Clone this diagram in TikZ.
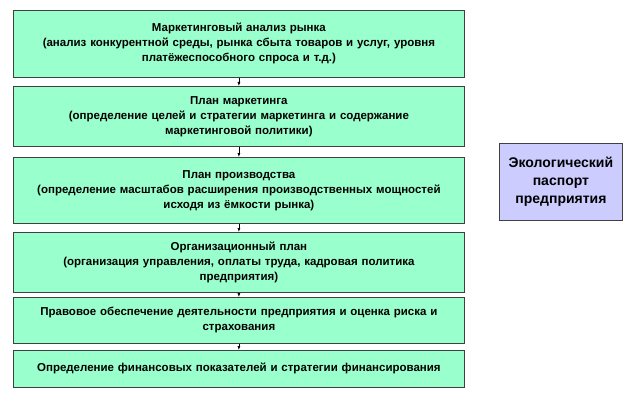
\documentclass[tikz,border=0pt]{standalone}
\usepackage{fontspec}
\usetikzlibrary{arrows.meta}
\setmainfont{Liberation Sans}
\definecolor{mint}{RGB}{153,255,204}
\definecolor{lav}{RGB}{204,204,255}
\begin{document}
\begin{tikzpicture}[x=1pt,y=-1pt,
  gbox/.style={draw=black!75,line width=0.8pt,fill=mint,align=center,font=\bfseries\fontsize{11.5}{15}\selectfont,text width=446pt,minimum width=451pt,inner sep=0pt},
  arr/.style={-{Latex[length=4pt,width=3pt]},line width=0.6pt}]
\useasboundingbox (0,0) rectangle (642,401);
\node[gbox,minimum height=67pt,anchor=north west] (b1) at (13,10) {Маркетинговый анализ рынка\\(анализ конкурентной среды, рынка сбыта товаров и услуг, уровня\\платёжеспособного спроса и т.д.)};
\node[gbox,minimum height=60pt,anchor=north west] (b2) at (13,86) {План маркетинга\\(определение целей и стратегии маркетинга и содержание\\маркетинговой политики)};
\node[gbox,minimum height=66pt,anchor=north west] (b3) at (13,157) {План производства\\(определение масштабов расширения производственных мощностей\\исходя из ёмкости рынка)};
\node[gbox,minimum height=60pt,anchor=north west] (b4) at (13,232) {Организационный план\\(организация управления, оплаты труда, кадровая политика\\предприятия)};
\node[gbox,minimum height=46pt,anchor=north west] (b5) at (13,297) {Правовое обеспечение деятельности предприятия и оценка риска и\\страхования};
\node[gbox,minimum height=37pt,anchor=north west] (b6) at (13,350) {Определение финансовых показателей и стратегии финансирования};
\node[draw=black!75,line width=0.8pt,fill=lav,align=center,font=\bfseries\fontsize{14}{18}\selectfont,minimum width=123pt,minimum height=77pt,anchor=north west,inner sep=0pt] (eco) at (499,143) {Экологический\\паспорт\\предприятия};
\draw[arr] (b1) -- (b2);
\draw[arr] (b2) -- (b3);
\draw[arr] (b3) -- (b4);
\draw[arr] (b4) -- (b5);
\draw[arr] (b5) -- (b6);
\end{tikzpicture}
\end{document}
